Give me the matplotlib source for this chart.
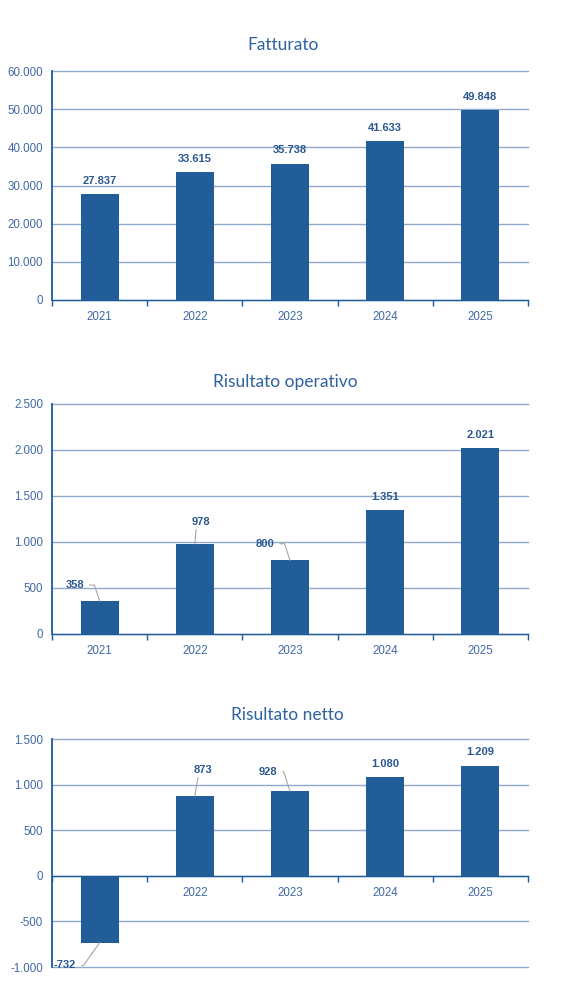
import matplotlib
matplotlib.use("Agg")
import matplotlib.pyplot as plt
from matplotlib.ticker import FuncFormatter, FixedLocator
import numpy as np

years = ["2021", "2022", "2023", "2024", "2025"]
fatturato = [27837, 33615, 35738, 41633, 49848]
ris_operativo = [358, 978, 800, 1351, 2021]
ris_netto = [-732, 873, 928, 1080, 1209]

titles = ["Fatturato", "Risultato operativo", "Risultato netto"]
series = [fatturato, ris_operativo, ris_netto]
ylims = [(0, 60000), (0, 2500), (-1000, 1500)]
ysteps = [10000, 500, 500]

BAR = "#215e99"
GRID = "#8eaacb"
SPINE = "#1f5b99"
TICKTXT = "#4068a3"
LABEL = "#2b5890"
TITLE = "#2e62a0"
LEADER = "#a6a6a6"

# label offsets in points (dx, dy) and leader style per chart/bar
offsets = [
    [None, None, None, None, None],
    [("elbow", -18, 11.5), ("straight", 4.5, 16), ("elbow", -18, 12), None, None],
    [("elbow_down", -25, -16.5), ("straight", 6, 19), ("elbow", -16, 14), None, None],
]

plt.rcParams['font.family'] = ['Liberation Sans', 'DejaVu Sans']

fig = plt.figure(figsize=(5.79, 10.06), dpi=100)
axes_rects = [
    (52/579, 1-300/1006, 476/579, 229/1006),
    (52/579, 1-634/1006, 476/579, 230/1006),
    (52/579, 1-967/1006, 476/579, 228/1006),
]
title_pads = [15, 12, 14]
title_x = [0.485, 0.49, 0.495]

fmt = FuncFormatter(lambda v, p: f"{v:,.0f}".replace(",", "."))

for k in range(3):
    ax = fig.add_axes(axes_rects[k])
    vals = series[k]
    x = np.arange(len(years))
    ax.set_axisbelow(True)
    ax.bar(x, vals, width=0.4, color=BAR, zorder=2)
    ax.set_xlim(-0.5, len(years) - 0.5)
    lo, hi = ylims[k]
    ax.set_ylim(lo, hi)
    ax.yaxis.set_major_locator(FixedLocator(np.arange(lo, hi + 1, ysteps[k])))
    ax.yaxis.set_major_formatter(fmt)
    ax.yaxis.grid(True, color=GRID, linewidth=1.0, clip_on=False)
    ax.tick_params(axis='y', length=0, pad=6.5, labelsize=8.3, labelcolor=TICKTXT)
    # x ticks: marks at boundaries, labels at centers
    ax.xaxis.set_major_locator(FixedLocator(np.arange(-0.5, len(years), 1.0)))
    ax.xaxis.set_major_formatter(FuncFormatter(lambda v, p: ""))
    ax.xaxis.set_minor_locator(FixedLocator(x))
    ax.set_xticklabels(years, minor=True)
    ax.tick_params(axis='x', which='major', length=4, width=1.0, color=SPINE, direction='out')
    ax.tick_params(axis='x', which='minor', length=0, pad=8, labelsize=8.3, labelcolor=TICKTXT)
    for s in ["top", "right"]:
        ax.spines[s].set_visible(False)
    ax.spines["left"].set_color(SPINE)
    ax.spines["left"].set_linewidth(1.3)
    ax.spines["bottom"].set_color(SPINE)
    ax.spines["bottom"].set_linewidth(1.0)
    if lo < 0:
        ax.spines["bottom"].set_position(("data", 0))
    ax.set_title(titles[k], fontsize=12.5, color=TITLE, pad=title_pads[k], x=title_x[k],
                 family=['Lato', 'DejaVu Sans'])

    for i, v in enumerate(vals):
        spec = offsets[k][i]
        txt = f"{v:,.0f}".replace(",", ".")
        if spec is None:
            ax.annotate(txt, xy=(i, v), xytext=(0, 9.5),
                        textcoords="offset points", ha="center", va="center",
                        fontsize=8, fontweight="bold", color=LABEL, zorder=4)
        else:
            style, dx, dy = spec
            if style == "straight":
                ap = dict(arrowstyle="-", color=LEADER, lw=0.8,
                          shrinkA=0, shrinkB=0, relpos=(0.25, 0.0))
            elif style == "elbow":
                ap = dict(arrowstyle="-", color=LEADER, lw=0.8,
                          shrinkA=2, shrinkB=0, relpos=(1.0, 0.5),
                          connectionstyle="angle,angleA=0,angleB=108,rad=0")
            else:  # elbow_down (negative bar)
                ap = dict(arrowstyle="-", color=LEADER, lw=0.8,
                          shrinkA=2, shrinkB=0, relpos=(1.0, 0.5),
                          connectionstyle="angle,angleA=0,angleB=55,rad=0")
            ax.annotate(txt, xy=(i, v), xytext=(dx, dy), textcoords="offset points",
                        ha="center", va="center", fontsize=8, fontweight="bold",
                        color=LABEL, zorder=4, arrowprops=ap)

fig.savefig("out.png", dpi=100)
